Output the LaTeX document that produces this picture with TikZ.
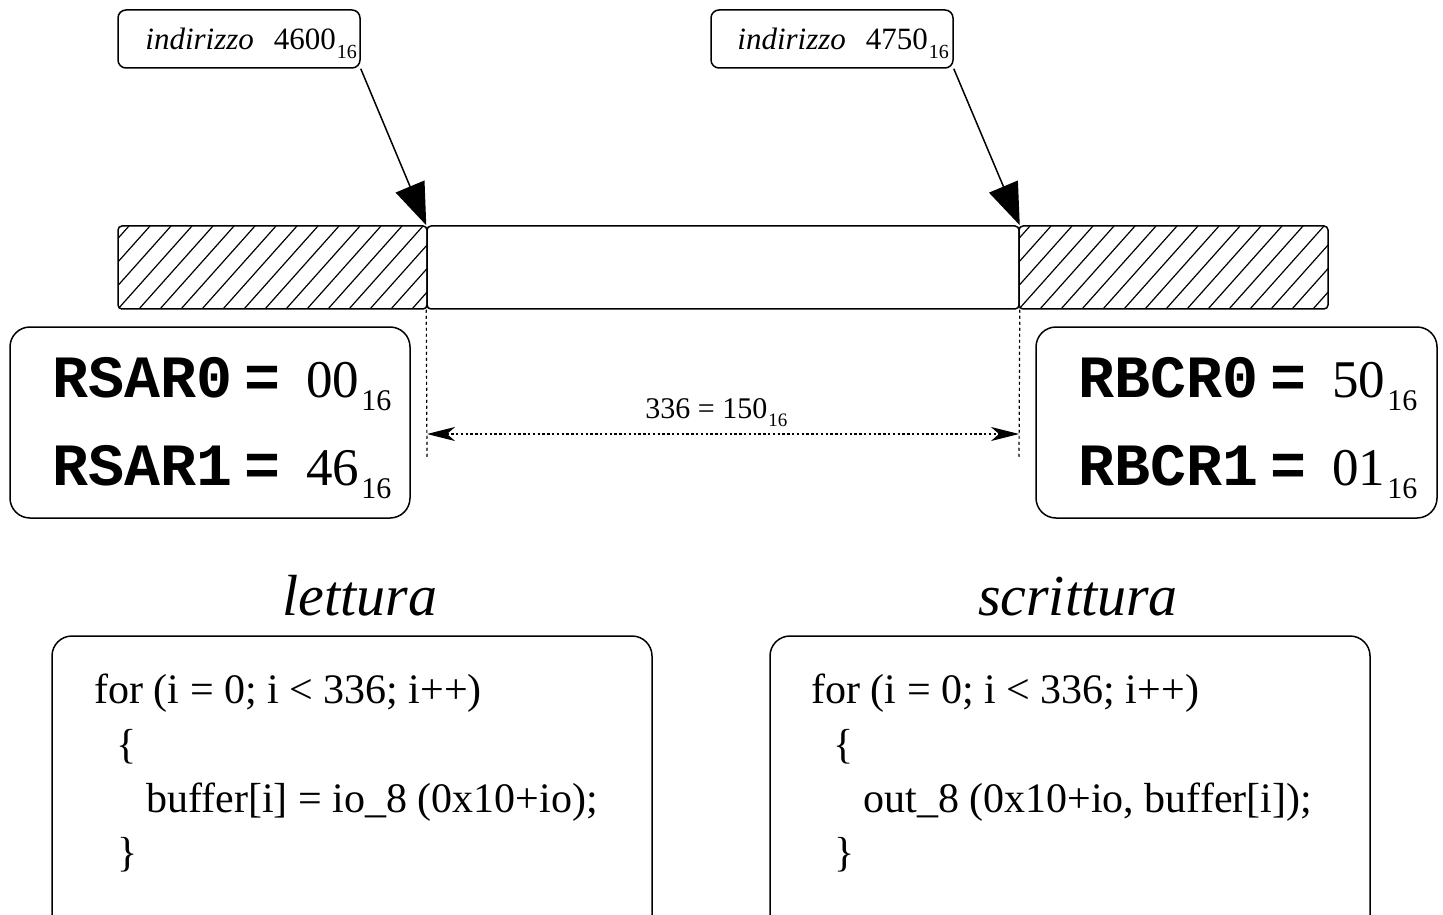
\documentclass[tikz,border=0pt]{standalone}
\usepackage{fontspec}
\setmainfont{Liberation Serif}
\setmonofont{Liberation Mono}
\usetikzlibrary{arrows.meta}
\newcommand\subsx[2]{\raisebox{-#2}{\fontsize{#1}{#1}\selectfont 16}}
\newcommand\regm{\fontsize{30}{30}\selectfont\ttfamily\bfseries}
\newcommand\regn{\fontsize{26.5}{30}\selectfont\rmfamily\mdseries}
\newcommand\codef{\fontsize{21}{24}\selectfont}
\newcommand\tagf{\fontsize{15.5}{18}\selectfont}
\tikzset{
 lw/.style={line width=0.75pt},
 tagbox/.style={draw, lw, rounded corners=4pt, minimum width=121pt, minimum height=29pt, inner sep=0pt},
 regbox/.style={draw, lw, rounded corners=10pt, minimum width=200pt, minimum height=95.5pt, inner sep=0pt},
 codebox/.style={draw, lw, rounded corners=10pt, minimum width=300pt, minimum height=150pt, inner sep=0pt},
 seg/.style={draw, lw, rounded corners=2pt, minimum height=41.5pt, inner sep=0pt},
 hatched/.style={seg, path picture={\foreach \k in {-4,...,16}{\draw[line width=0.6pt] ([xshift=\k*10.5pt]path picture bounding box.south west) -- ++(37pt,41.5pt);}}},
 txt/.style={inner sep=0pt, anchor=base west},
 bigarr/.style={-{Triangle[length=21pt,width=15.5pt]}, lw},
 dimarr/.style={{Stealth[length=14pt,width=7pt,inset=4pt]}-{Stealth[length=14pt,width=7pt,inset=4pt]}, line width=0.6pt, dash pattern=on 1.2pt off 1.2pt},
 guide/.style={line width=0.6pt, dash pattern=on 1.5pt off 1.5pt},
}
\begin{document}
\begin{tikzpicture}[x=0.5pt,y=-0.5pt]
\clip (0,0) rectangle (1443,914);
\path[use as bounding box] (0,0) rectangle (1443,914);

% address tags
\node[tagbox] (tag1) at (239,39) {};
\node[txt] (tag1t) at (145,50) {\tagf\itshape indirizzo\upshape\kern10pt 4600\kern0.5pt\subsx{10}{4.5pt}};
\node[tagbox] (tag2) at (832,39) {};
\node[txt] (tag2t) at (737,50) {\tagf\itshape indirizzo\upshape\kern10pt 4750\kern0.5pt\subsx{10}{4.5pt}};

% memory bar
\node[hatched, minimum width=154.5pt] (hl) at (272.5,267.5) {};
\node[seg, minimum width=296pt] (mid) at (723,267.5) {};
\node[hatched, minimum width=154.5pt] (hr) at (1173.5,267.5) {};

% arrows
\draw[bigarr] (tag1.south east) -- (mid.north west);
\draw[bigarr] (tag2.south east) -- (mid.north east);

% guides and dimension
\coordinate (gl) at (427,458);
\coordinate (gr) at (1019,458);
\coordinate (dl) at (427,434);
\coordinate (dr) at (1019,434);
\draw[guide] (mid.south west) -- (gl);
\draw[guide] (mid.south east) -- (gr);
\draw[dimarr] (dl) -- (dr);
\node[txt] (dim) at (645,418) {\fontsize{15}{17}\selectfont 336 = 150\kern0.5pt\subsx{9.5}{4pt}};

% register boxes
\node[regbox] (rsar) at (210,422.5) {};
\node[txt] (rsar0) at (52,397) {\regm RSAR0\kern6pt=\kern13pt\regn 00\kern1pt\subsx{15}{6.5pt}};
\node[txt] (rsar1) at (52,485) {\regm RSAR1\kern6pt=\kern13pt\regn 46\kern1pt\subsx{15}{6.5pt}};
\node[regbox, minimum width=200.5pt] (rbcr) at (1236.5,422.5) {};
\node[txt] (rbcr0) at (1078,397) {\regm RBCR0\kern6pt=\kern13pt\regn 50\kern1pt\subsx{15}{6.5pt}};
\node[txt] (rbcr1) at (1078,485) {\regm RBCR1\kern6pt=\kern13pt\regn 01\kern1pt\subsx{15}{6.5pt}};

% titles
\node[anchor=base, inner sep=0pt] (lt) at (360,615) {\fontsize{29}{32}\selectfont\itshape lettura};
\node[anchor=base, inner sep=0pt] (st) at (1078,615) {\fontsize{29}{32}\selectfont\itshape scrittura};

% code boxes
\node[codebox] (cl) at (352,786) {};
\node[txt] (cl1) at (94,703) {\codef for (i = 0; i < 336; i++)};
\node[txt] (cl2) at (116,758) {\codef \{};
\node[txt] (cl3) at (146,812) {\codef buffer[i] = io\_8 (0x10+io);};
\node[txt] (cl4) at (117,866) {\codef \}};

\node[codebox] (cr) at (1070,786) {};
\node[txt] (cr1) at (811,703) {\codef for (i = 0; i < 336; i++)};
\node[txt] (cr2) at (833,758) {\codef \{};
\node[txt] (cr3) at (863,812) {\codef out\_8 (0x10+io, buffer[i]);};
\node[txt] (cr4) at (834,866) {\codef \}};
\end{tikzpicture}
\end{document}
